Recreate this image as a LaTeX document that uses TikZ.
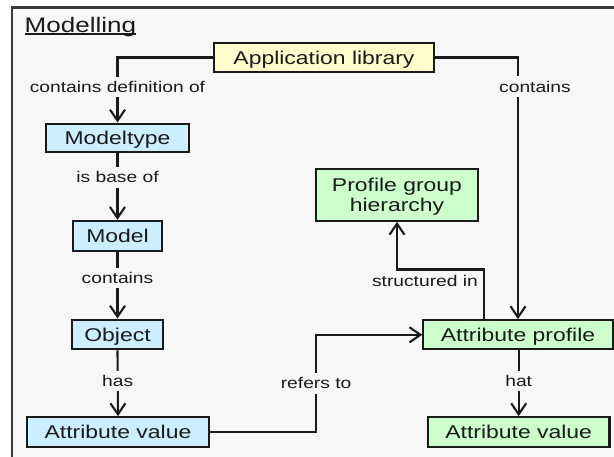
\documentclass[tikz,border=0pt]{standalone}
\usepackage{fontspec}
\setmainfont{Liberation Sans}
\usetikzlibrary{arrows.meta,calc}
\definecolor{bgc}{HTML}{F7F7F7}
\definecolor{linec}{HTML}{1A1A1A}
\definecolor{framec}{HTML}{3A3A3A}
\definecolor{yel}{HTML}{FFFFCC}
\definecolor{blu}{HTML}{CCEEFF}
\definecolor{grn}{HTML}{CCFFCC}
\newcommand\sx[1]{\scalebox{1.24}[1]{#1}}
\begin{document}
\begin{tikzpicture}[x=1pt,y=-1pt,
  box/.style={draw=linec,line width=2.1pt,inner sep=0pt,font=\fontsize{18.5}{20}\selectfont,text=linec},
  one/.style={text height=13.5pt,text depth=0pt},
  lbl/.style={fill=bgc,inner xsep=2pt,inner ysep=4.5pt,font=\fontsize{15.5}{18}\selectfont,text=linec},
  arr/.style={draw=linec,line width=2.1pt,-{Straight Barb[length=11pt,width=15pt]}}]
\useasboundingbox (0,0) rectangle (614,457);
\fill[white] (0,0) rectangle (614,457);
\fill[bgc] (12,7.5) rectangle (614,457);
\draw[line width=2.2pt,framec] (12,460) -- (12,7.5) -- (618,7.5);

% title
\node[font=\fontsize{21}{24}\selectfont,inner sep=0pt,anchor=base west,text=linec] (title) at (24.5,32.3) {\sx{Modelling}};
\draw[line width=1.4pt,linec] ([yshift=-1.8pt]title.base west) -- ([yshift=-1.8pt]title.base east);

% nodes
\node[box,one,fill=yel,minimum width=220pt,minimum height=29.2pt] (AL) at (324,57.5) {\sx{Application library}};
\node[box,one,fill=blu,minimum width=143.7pt,minimum height=28.8pt] (MT) at (117.5,138) {\sx{Modeltype}};
\node[box,one,fill=blu,minimum width=88.2pt,minimum height=30.2pt] (Model) at (117.5,236) {\sx{Model}};
\node[box,one,fill=blu,minimum width=90.8pt,minimum height=29.8pt] (Obj) at (117.5,334.5) {\sx{Object}};
\node[box,one,fill=blu,minimum width=181.5pt,minimum height=29.6pt] (AVb) at (118,432) {\sx{Attribute value}};
\node[box,fill=grn,minimum width=161.6pt,minimum height=52.2pt,text height=17pt,text depth=23pt] (PGH) at (397,194.7) {\sx{\begin{tabular}[t]{@{}c@{}}Profile group\\hierarchy\end{tabular}}};
\node[box,one,fill=grn,minimum width=189.2pt,minimum height=29.2pt] (AP) at (518,334.8) {\sx{Attribute profile}};
\node[box,one,fill=grn,minimum width=181.5pt,minimum height=29.6pt] (AVg) at (518.7,432) {\sx{Attribute value}};

% connectors
\draw[arr] (AL.west) -| (MT.north) node[lbl,pos=0.7285]{\sx{contains definition of}};
\draw[arr] (AL.east) -| (AP.north) node[lbl,pos=0.5557,xshift=17pt]{\sx{contains}};
\draw[arr] (MT.south) -- (Model.north) node[lbl,pos=0.36]{\sx{is base of}};
\draw[arr] (Model.south) -- (Obj.north) node[lbl,pos=0.385]{\sx{contains}};
\draw[arr] (Obj.south) -- (AVb.north) node[lbl,pos=0.465]{\sx{has}};
\draw[arr] (AVb.east) -| ($(AVb.east)!0.5!(AP.west)$) node[lbl]{\sx{refers to}} |- (AP.west);
\draw[arr] ([xshift=61.7pt]AP.north west) -- ++(0,-49.6) coordinate (si) -| (PGH.south);
\node[lbl,fill=none,anchor=east] (silbl) at ([xshift=-4pt,yshift=-11.3pt]si) {\sx{structured in}};
\draw[arr] (AP.south -| AVg.north) -- (AVg.north) node[lbl,pos=0.465]{\sx{hat}};
\end{tikzpicture}
\end{document}
